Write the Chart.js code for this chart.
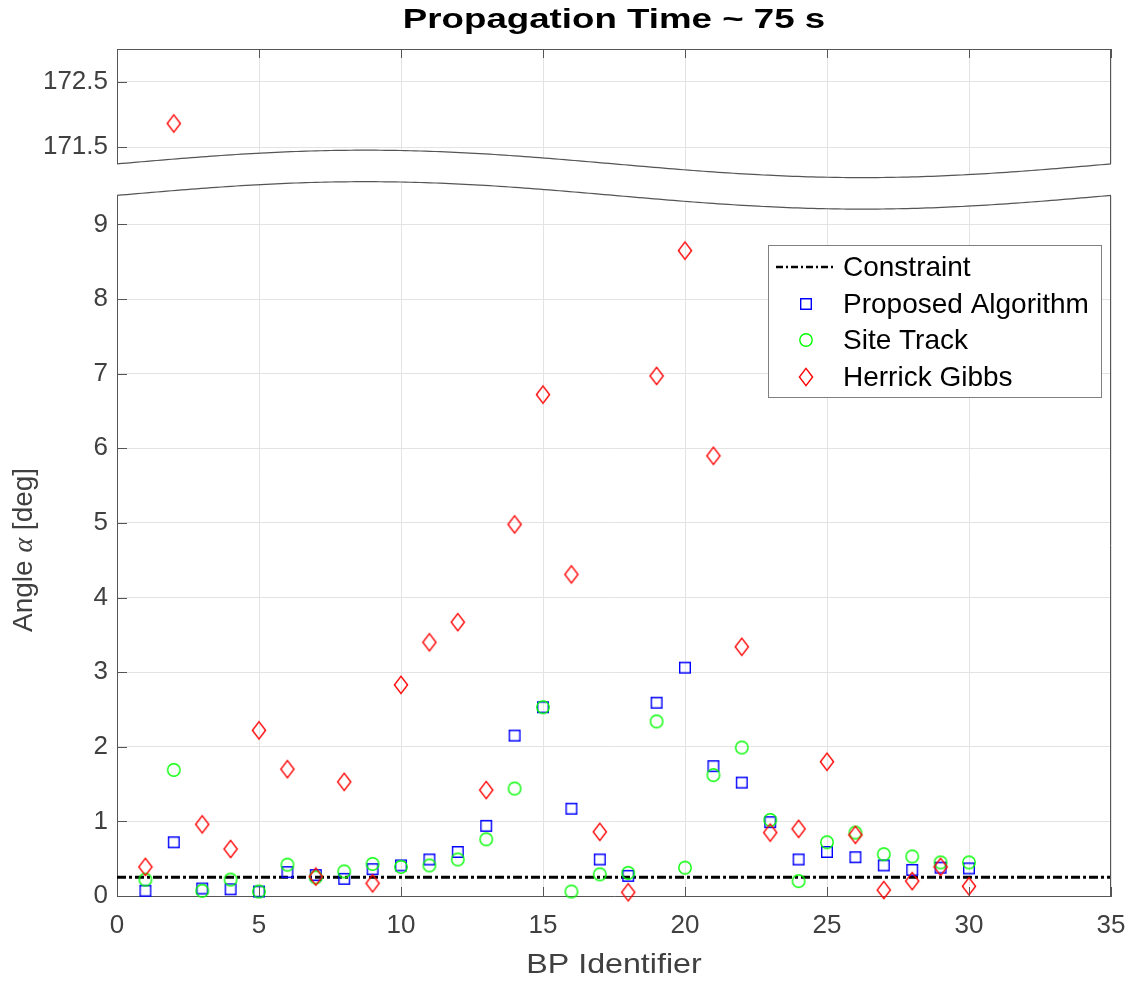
<!DOCTYPE html>
<html lang="en">
<head>
<meta charset="UTF-8">
<title>Propagation Time ~ 75 s</title>
<script src="https://cdn.jsdelivr.net/npm/chart.js@4.4.0/dist/chart.umd.min.js"></script>
<style>
  body { margin: 0; background: #fff; }
  #wrap { width: 1131px; height: 981px; position: relative; }
</style>
</head>
<body>
<div id="wrap"><canvas id="myChart"></canvas></div>
<script>
// values, BP identifier 1..30
const bpIds = [1, 2, 3, 4, 5, 6, 7, 8, 9, 10, 11, 12, 13, 14, 15,
               16, 17, 18, 19, 20, 21, 22, 23, 24, 25, 26, 27, 28, 29, 30];
const proposed = [0.07, 0.72, 0.10, 0.09, 0.06, 0.32, 0.28, 0.23, 0.36, 0.41,
                  0.49, 0.59, 0.94, 2.15, 2.53, 1.17, 0.49, 0.27, 2.59, 3.06,
                  1.74, 1.52, 0.99, 0.49, 0.59, 0.52, 0.41, 0.35, 0.38, 0.37];
const siteTrack = [0.22, 1.69, 0.07, 0.22, 0.06, 0.42, 0.25, 0.33, 0.43, 0.39,
                   0.41, 0.49, 0.76, 1.44, 2.53, 0.06, 0.29, 0.31, 2.34, 0.38,
                   1.62, 1.99, 1.02, 0.20, 0.72, 0.85, 0.56, 0.53, 0.45, 0.45];
const herrickGibbs = [0.39, 171.86, 0.96, 0.63, 2.22, 1.70, 0.26, 1.53, 0.17, 2.83,
                      3.40, 3.67, 1.42, 4.98, 6.72, 4.31, 0.86, 0.05, 6.97, 8.65,
                      5.90, 3.34, 0.85, 0.90, 1.80, 0.82, 0.08, 0.20, 0.39, 0.13];
const constraintX = [0, 35];
const constraintY = [0.25, 0.25];

const xTicks = [0, 5, 10, 15, 20, 25, 30, 35];
const lowerTicks = [0, 1, 2, 3, 4, 5, 6, 7, 8, 9];
const upperTicks = [171.5, 172.5];
const seriesNames = ['Constraint', 'Proposed Algorithm', 'Site Track', 'Herrick Gibbs'];
const breakAt = 100; // values above go on the upper (broken) axis

const FONT = '"Liberation Sans", Arial, sans-serif';

// hollow MATLAB-like markers
function marker(shape, color) {
    const c = document.createElement('canvas');
    c.width = 20; c.height = 22;
    const g = c.getContext('2d');
    g.strokeStyle = color;
    g.lineWidth = 1.4;
    const cx = 10, cy = 11;
    g.beginPath();
    if (shape === 'square') {
        g.rect(cx - 5.3, cy - 5.3, 10.6, 10.6);
    } else if (shape === 'circle') {
        g.arc(cx, cy, 6.2, 0, 2 * Math.PI);
    } else {
        g.moveTo(cx, cy - 8.6); g.lineTo(cx + 6.6, cy);
        g.lineTo(cx, cy + 8.6); g.lineTo(cx - 6.6, cy);
        g.closePath();
    }
    g.stroke();
    return c;
}
const sqMark = marker('square', '#0000ff');
const ciMark = marker('circle', '#00ff00');
const diMark = marker('diamond', '#ff0000');

const pts = (vals, keep) => bpIds.map((x, i) => ({ x: x, y: keep(vals[i]) ? vals[i] : null }));
const low = v => v < breakAt;
const high = v => v >= breakAt;

// axis break, box, inward ticks, legend and titles
const decor = {
    id: 'decor',
    afterDraw(chart) {
        const { ctx, chartArea: a, scales } = chart;
        const xs = scales.x, yl = scales.y, yu = scales.yTop;
        const b = yl.top;
        const W = a.right - a.left;
        const waveU = t => b - 15.8 - 13.7 * Math.sin(2 * Math.PI * t);
        const waveL = t => b + 15.7 - 13.7 * Math.sin(2 * Math.PI * t);
        const N = 200;
        ctx.save();

        // white gap between the two axes
        ctx.beginPath();
        ctx.moveTo(a.left - 4, waveU(0));
        for (let i = 0; i <= N; i++) ctx.lineTo(a.left + W * i / N, waveU(i / N));
        ctx.lineTo(a.right + 4, waveU(1));
        ctx.lineTo(a.right + 4, waveL(1));
        for (let i = N; i >= 0; i--) ctx.lineTo(a.left + W * i / N, waveL(i / N));
        ctx.lineTo(a.left - 4, waveL(0));
        ctx.closePath();
        ctx.fillStyle = '#fff';
        ctx.fill();

        ctx.strokeStyle = '#555';
        ctx.lineWidth = 1.2;
        [waveU, waveL].forEach(f => {
            ctx.beginPath();
            for (let i = 0; i <= N; i++) {
                const x = a.left + W * i / N;
                i ? ctx.lineTo(x, f(i / N)) : ctx.moveTo(x, f(0));
            }
            ctx.stroke();
        });

        // box: top and right edges
        ctx.lineWidth = 1;
        ctx.beginPath();
        ctx.moveTo(a.left, a.top + 0.5); ctx.lineTo(a.right, a.top + 0.5);
        ctx.moveTo(a.right - 0.5, a.top); ctx.lineTo(a.right - 0.5, waveU(1));
        ctx.moveTo(a.right - 0.5, waveL(1)); ctx.lineTo(a.right - 0.5, a.bottom);
        ctx.stroke();

        // inward tick marks
        ctx.beginPath();
        xTicks.forEach(v => {
            const px = Math.round(xs.getPixelForValue(v)) + 0.5;
            ctx.moveTo(px, a.bottom); ctx.lineTo(px, a.bottom - 9);
            ctx.moveTo(px, a.top); ctx.lineTo(px, a.top + 9);
        });
        lowerTicks.forEach(v => {
            const py = Math.round(yl.getPixelForValue(v)) + 0.5;
            ctx.moveTo(a.left, py); ctx.lineTo(a.left + 10, py);
        });
        upperTicks.forEach(v => {
            const py = Math.round(yu.getPixelForValue(v)) + 0.5;
            ctx.moveTo(a.left, py); ctx.lineTo(a.left + 10, py);
        });
        ctx.stroke();

        // legend
        const lx = a.right - 343, ly = a.top + 196, lw = 333, lh = 152;
        ctx.fillStyle = '#fff';
        ctx.fillRect(lx, ly, lw, lh);
        ctx.strokeStyle = '#808080';
        ctx.strokeRect(lx + 0.5, ly + 0.5, lw, lh);
        const rows = [ly + 22, ly + 59, ly + 95, ly + 132];
        ctx.strokeStyle = '#000';
        ctx.lineWidth = 2.5;
        ctx.setLineDash([7, 3, 2, 3]);
        ctx.beginPath();
        ctx.moveTo(lx + 8, rows[0]); ctx.lineTo(lx + 68, rows[0]);
        ctx.stroke();
        ctx.setLineDash([]);
        [sqMark, ciMark, diMark].forEach((m, i) => {
            ctx.drawImage(m, lx + 38 - m.width / 2, rows[i + 1] - m.height / 2);
        });
        ctx.fillStyle = '#000';
        ctx.font = '28px ' + FONT;
        ctx.textAlign = 'left';
        ctx.textBaseline = 'middle';
        seriesNames.forEach((s, i) => ctx.fillText(s, lx + 75, rows[i] + 1));

        // title
        ctx.textBaseline = 'alphabetic';
        ctx.textAlign = 'center';
        ctx.save();
        ctx.translate((a.left + a.right) / 2, 28);
        ctx.scale(1.31, 1);
        ctx.font = 'bold 28px ' + FONT;
        ctx.fillStyle = '#000';
        ctx.fillText('Propagation Time ~ 75 s', 0, 0);
        ctx.restore();

        // x label
        ctx.save();
        ctx.translate((a.left + a.right) / 2, 973);
        ctx.scale(1.15, 1);
        ctx.font = '28px ' + FONT;
        ctx.fillStyle = '#404040';
        ctx.fillText('BP Identifier', 0, 0);
        ctx.restore();

        // y label with italic alpha
        ctx.save();
        ctx.translate(32, 632);
        ctx.rotate(-Math.PI / 2);
        ctx.textAlign = 'left';
        ctx.fillStyle = '#404040';
        const parts = [['Angle ', '28px ' + FONT], ['\u03b1', 'italic 28px "Liberation Serif", serif'], [' [deg]', '28px ' + FONT]];
        let off = 0;
        parts.forEach(([t, f]) => {
            ctx.font = f;
            ctx.fillText(t, off, 0);
            off += ctx.measureText(t).width;
        });
        ctx.restore();

        ctx.restore();
    }
};

const tickFont = { family: FONT, size: 26 };

const ctx = document.getElementById('myChart').getContext('2d');
const chart = new Chart(ctx, {
    type: 'scatter',
    data: {
        datasets: [
            { label: 'Herrick Gibbs', data: pts(herrickGibbs, low), yAxisID: 'y', pointStyle: diMark, pointRadius: 8, clip: false },
            { label: 'Herrick Gibbs (upper)', data: pts(herrickGibbs, high), yAxisID: 'yTop', pointStyle: diMark, pointRadius: 8, clip: false },
            { label: 'Site Track', data: pts(siteTrack, low), yAxisID: 'y', pointStyle: ciMark, pointRadius: 8, clip: false },
            { label: 'Proposed Algorithm', data: pts(proposed, low), yAxisID: 'y', pointStyle: sqMark, pointRadius: 8, clip: false },
            {
                label: 'Constraint',
                data: constraintX.map((x, i) => ({ x: x, y: constraintY[i] })),
                yAxisID: 'y',
                showLine: true,
                borderColor: '#000',
                borderWidth: 3,
                borderDash: [9, 3, 3, 3],
                pointRadius: 0
            }
        ]
    },
    options: {
        responsive: true,
        maintainAspectRatio: false,
        animation: false,
        layout: { padding: { top: 49, right: 20, left: 0, bottom: 0 } },
        plugins: {
            legend: { display: false },
            tooltip: { enabled: false }
        },
        scales: {
            y: {
                type: 'linear',
                position: 'left',
                stack: 'broken',
                stackWeight: 718,
                min: 0,
                max: 9.6,
                afterBuildTicks: s => { s.ticks = lowerTicks.map(v => ({ value: v })); },
                afterFit: s => { s.width = 117; },
                ticks: { font: tickFont, color: '#404040', padding: 9 },
                grid: { color: '#e3e3e3', drawTicks: false },
                border: { color: '#555' }
            },
            yTop: {
                type: 'linear',
                position: 'left',
                stack: 'broken',
                stackWeight: 131,
                min: 171,
                max: 173,
                afterBuildTicks: s => { s.ticks = upperTicks.map(v => ({ value: v })); },
                afterFit: s => { s.width = 117; },
                ticks: { callback: v => Number(v).toFixed(1), font: tickFont, color: '#404040', padding: 9 },
                grid: { color: '#e3e3e3', drawTicks: false },
                border: { color: '#555' }
            },
            x: {
                type: 'linear',
                min: 0,
                max: 35,
                afterBuildTicks: s => { s.ticks = xTicks.map(v => ({ value: v })); },
                afterFit: s => { s.height = 85; s.paddingLeft = 0; s.paddingRight = 0; },
                ticks: { font: tickFont, color: '#404040', padding: 14, maxRotation: 0 },
                grid: { color: '#e3e3e3', drawTicks: false },
                border: { color: '#555' }
            }
        }
    },
    plugins: [decor]
});
</script>
</body>
</html>
